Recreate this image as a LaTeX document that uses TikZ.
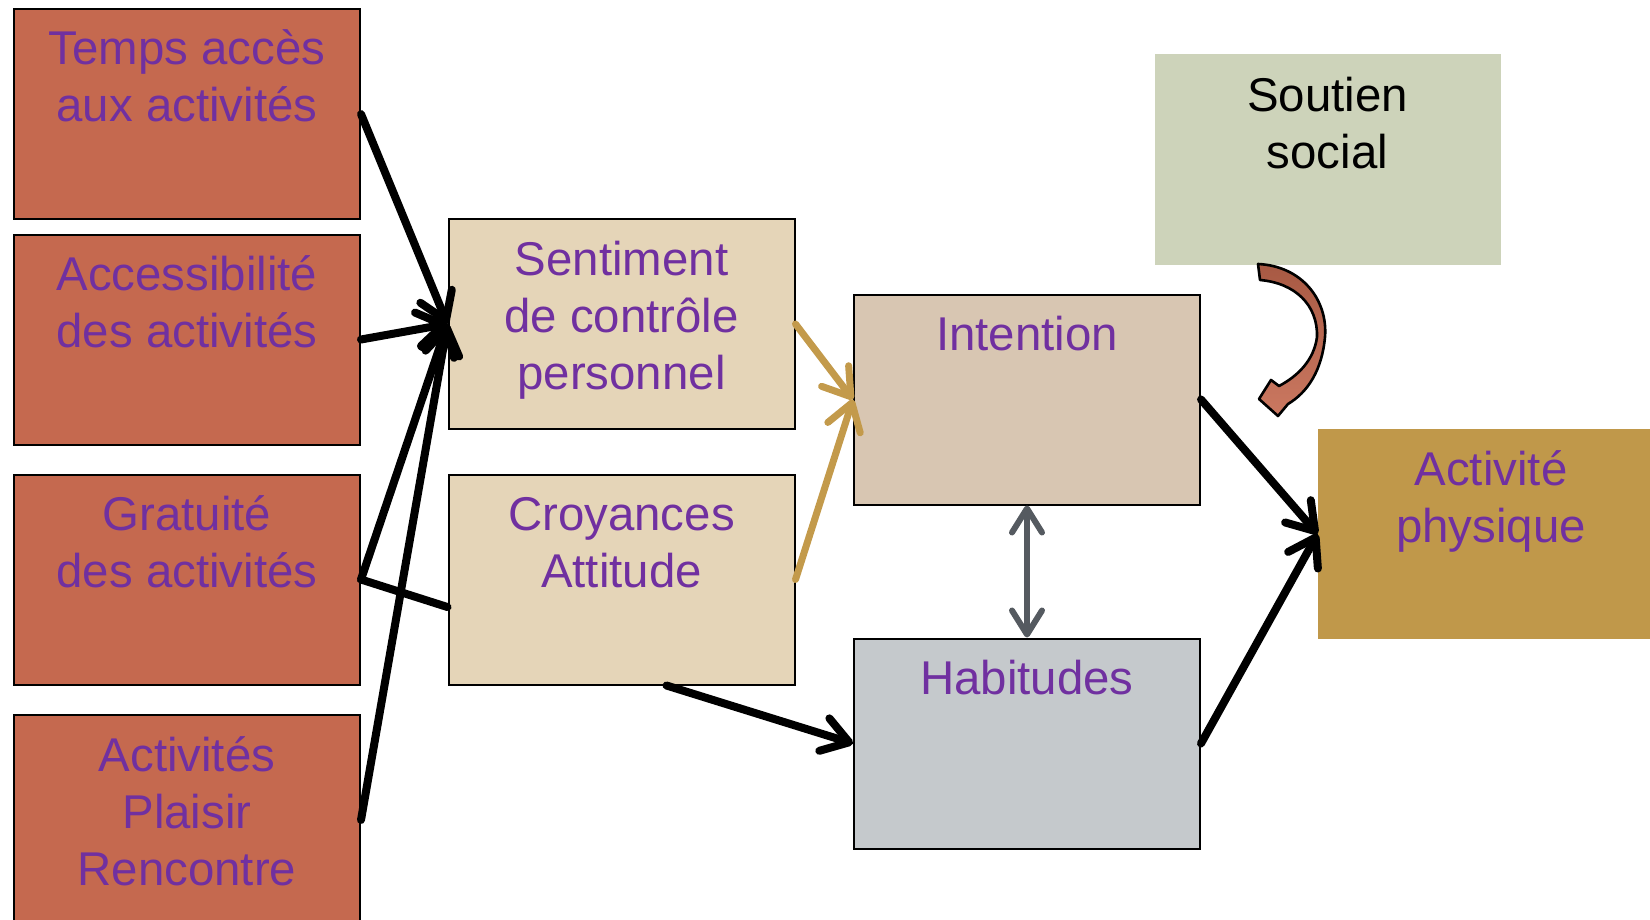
\documentclass[tikz,border=0pt]{standalone}
\usepackage{fontspec}
\setmainfont{Liberation Sans}
\usetikzlibrary{arrows.meta,calc}
\definecolor{terracotta}{HTML}{C5694F}
\definecolor{sandfill}{HTML}{E5D5B8}
\definecolor{taupefill}{HTML}{D8C6B2}
\definecolor{greyfill}{HTML}{C5C9CC}
\definecolor{sagefill}{HTML}{CDD3BA}
\definecolor{ochrefill}{HTML}{C0984A}
\definecolor{labelpurple}{HTML}{7030A0}
\definecolor{goldline}{HTML}{C39A4B}
\definecolor{slateline}{HTML}{555A60}
\newcommand{\boxtext}[1]{\parbox[t]{170pt}{\centering #1}}
\begin{document}
\begin{tikzpicture}[x=0.5pt,y=-0.5pt,
           box_style/.style={rectangle,minimum width=173pt,minimum height=105pt,inner sep=0pt},
           cause_style/.style={box_style,draw=black,line width=1pt,fill=terracotta},
           belief_style/.style={box_style,draw=black,line width=1pt,fill=sandfill},
           intent_style/.style={box_style,draw=black,line width=1pt,fill=taupefill},
           habit_style/.style={box_style,draw=black,line width=1pt,fill=greyfill},
           support_style/.style={box_style,fill=sagefill},
           outcome_style/.style={box_style,fill=ochrefill},
           text_style/.style={anchor=base,inner sep=0pt,text=labelpurple,font=\fontsize{23.7pt}{28.5pt}\selectfont},
           edge_style/.style={draw=black,line width=4pt,line cap=round,-{Straight Barb[length=13pt,width=17pt,round]}},
           line_style/.style={draw=black,line width=4pt,line cap=round},
           gold_style/.style={draw=goldline,line width=3.5pt,line cap=round,-{Straight Barb[length=13pt,width=17pt,round]}},
           both_style/.style={draw=slateline,line width=3pt,{Straight Barb[length=12pt,width=15pt,round]}-{Straight Barb[length=12pt,width=15pt,round]}},
           curve_style/.style={draw=black,line width=1.3pt,line join=round,top color=terracotta!85!black,bottom color=terracotta!90!white}]
            \useasboundingbox (0,0) rectangle (1650,920);
            % boxes
            \node[cause_style] (temps) at (187, 114) {};
            \node[cause_style] (acces) at (187, 339.5) {};
            \node[cause_style] (grat) at (187, 579.5) {};
            \node[cause_style] (plaisir) at (187, 820) {};
            \node[belief_style] (sent) at (621.5, 324) {};
            \node[belief_style] (croy) at (621.5, 579.5) {};
            \node[intent_style] (intent) at (1027, 399.5) {};
            \node[habit_style] (habit) at (1027, 743.5) {};
            \node[support_style] (soutien) at (1327.5, 159.5) {};
            \node[outcome_style] (activ) at (1491, 534) {};
            % texts
            \node[text_style] at ($(temps.north)+(0,57)$) {\boxtext{Temps accès\\aux activités}};
            \node[text_style] at ($(acces.north)+(0,57)$) {\boxtext{Accessibilité\\des activités}};
            \node[text_style] at ($(grat.north)+(0,57)$) {\boxtext{Gratuité\\des activités}};
            \node[text_style] at ($(plaisir.north)+(0,57)$) {\boxtext{Activités\\Plaisir\\Rencontre}};
            \node[text_style] at ($(sent.north)+(0,57)$) {\boxtext{Sentiment\\de contrôle\\personnel}};
            \node[text_style] at ($(croy.north)+(0,57)$) {\boxtext{Croyances\\Attitude}};
            \node[text_style] at ($(intent.north)+(0,57)$) {\boxtext{Intention}};
            \node[text_style] at ($(habit.north)+(0,57)$) {\boxtext{Habitudes}};
            \node[text_style,text=black] at ($(soutien.north)+(0,57)$) {\boxtext{Soutien\\social}};
            \node[text_style] at ($(activ.north)+(0,57)$) {\boxtext{Activité\\physique}};
            % connectors
            \draw[edge_style]  (temps.east) -- (sent.west);
            \draw[edge_style]  (acces.east) -- (sent.west);
            \draw[edge_style]  (grat.east) -- (sent.west);
            \draw[edge_style]  (plaisir.east) -- (sent.west);
            \draw[line_style]  (grat.east) -- (croy.189.7);
            \draw[gold_style]  (sent.east) -- (intent.west);
            \draw[gold_style]  (croy.east) -- (intent.west);
            \draw[edge_style]  (croy.-67.4) -- (habit.west);
            \draw[both_style]  (intent.south) -- (habit.north);
            \draw[edge_style]  (intent.east) -- (activ.west);
            \draw[edge_style]  (habit.east) -- (activ.west);
            % curved arrow under the support box
            \draw[curve_style] (1258,264) .. controls (1302,266) and (1328,300) .. (1325,337)
                .. controls (1322,370) and (1308,392) .. (1288,404)
                -- (1278,416) -- (1259,399) -- (1271,380) -- (1279,386)
                .. controls (1298,376) and (1314,360) .. (1317,337)
                .. controls (1318,305) and (1295,283) .. (1260,280) -- cycle;
        \end{tikzpicture}
\end{document}
